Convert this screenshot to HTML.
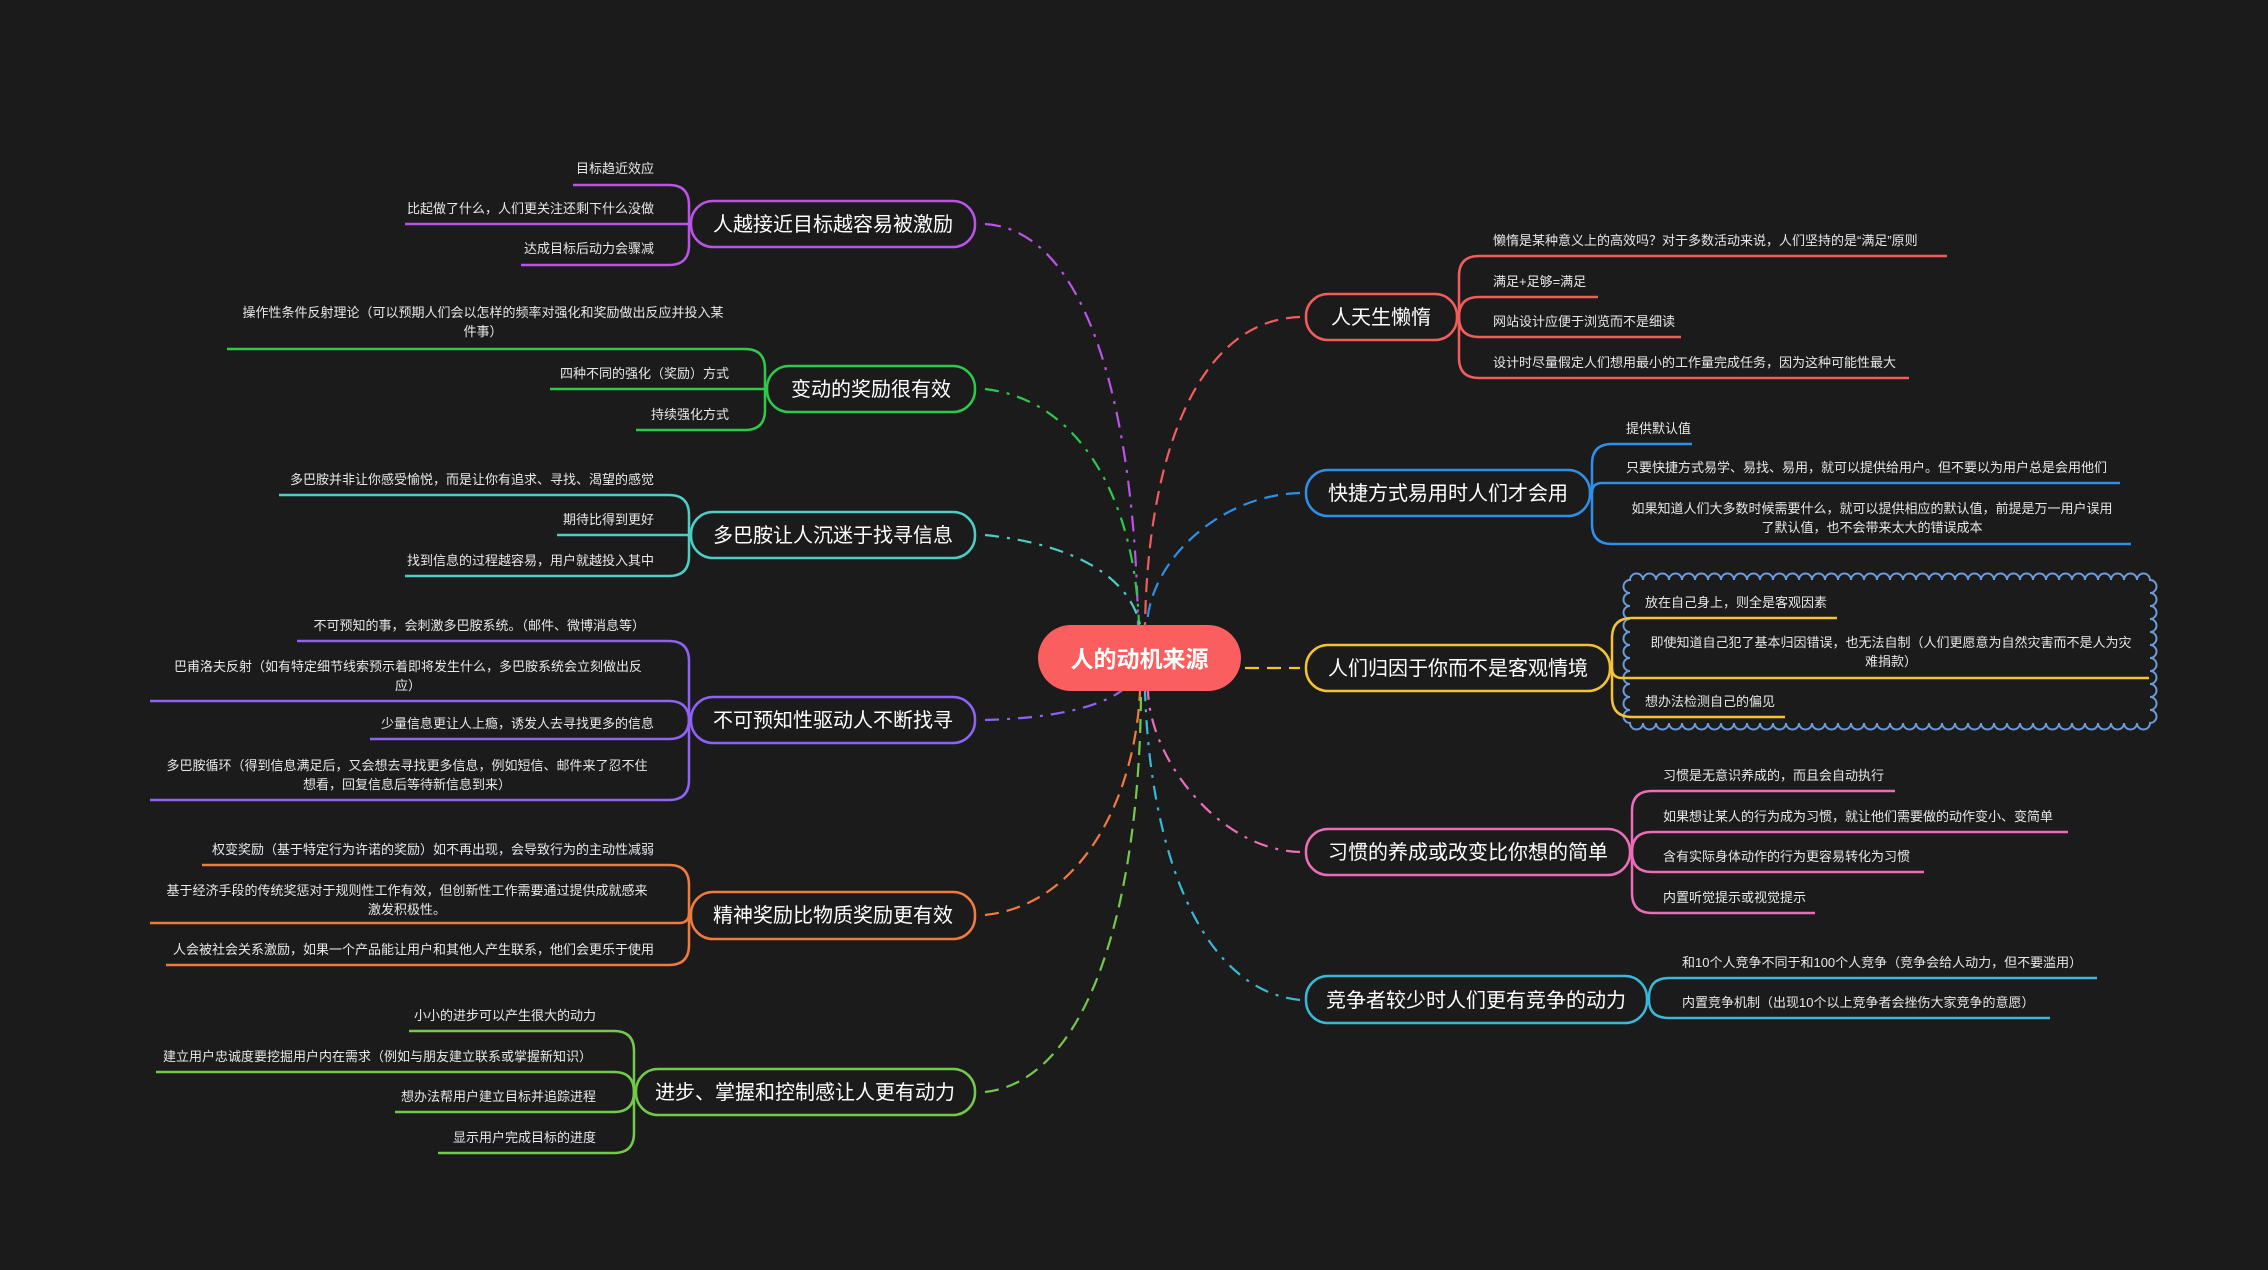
<!DOCTYPE html>
<html><head><meta charset="utf-8"><style>
html,body{margin:0;padding:0;background:#1b1b1b;}
svg{display:block;}
text{font-family:"Liberation Sans","Noto Sans CJK SC",sans-serif;fill:#e8e8e8;}
.c{font-size:13px;}
.b{font-size:20px;fill:#fff;}
.l{fill:none;stroke-width:2.5;}
.d{fill:none;stroke-width:2.2;}
</style></head><body>
<svg width="2268" height="1270" viewBox="0 0 2268 1270" xmlns="http://www.w3.org/2000/svg">
<rect width="2268" height="1270" fill="#1b1b1b"/>

<!-- main connectors -->
<path class="d" stroke="#b954e6" stroke-dasharray="16 8 3 8" d="M985,224 C1090,230 1135,420 1138,625"/>
<path class="d" stroke="#2ec84a" stroke-dasharray="14 8 3 8" d="M985,389 C1080,400 1135,500 1139,625"/>
<path class="d" stroke="#4ecdc4" stroke-dasharray="14 8 3 8" d="M985,535 C1080,545 1130,580 1140,625"/>
<path class="d" stroke="#8f62f5" stroke-dasharray="14 8 3 8" d="M985,720 C1060,718 1105,705 1125,688"/>
<path class="d" stroke="#f07b3f" stroke-dasharray="14 8" d="M985,915 C1080,905 1135,800 1140,691"/>
<path class="d" stroke="#74c94a" stroke-dasharray="14 8" d="M985,1092 C1090,1080 1140,900 1141,691"/>
<path class="d" stroke="#f25c5c" stroke-dasharray="14 8" d="M1300,317 C1200,320 1148,450 1145,625"/>
<path class="d" stroke="#2f8fe8" stroke-dasharray="14 8" d="M1300,493 C1220,495 1150,560 1147,625"/>
<path class="d" stroke="#f3c332" stroke-dasharray="14 8" d="M1245,668 L1300,668"/>
<path class="d" stroke="#ec6cb8" stroke-dasharray="14 8 3 8" d="M1300,852 C1220,850 1150,760 1148,691"/>
<path class="d" stroke="#3bb8d8" stroke-dasharray="14 8 3 8" d="M1300,1000 C1200,990 1150,850 1145,691"/>

<!-- center -->
<rect x="1038" y="625" width="203" height="66" rx="33" fill="#fb5e5e"/>
<text x="1139.5" y="667" text-anchor="middle" style="font-size:23px;font-weight:bold;fill:#fff">人的动机来源</text>

<!-- B1 -->
<g stroke="#b954e6" class="l">
<path d="M689,224 L689,205 Q689,185 669,185 L573,185"/>
<path d="M689,224 L405,224"/>
<path d="M689,224 L689,245 Q689,265 669,265 L521,265"/>
<rect x="691" y="201" width="284" height="46" rx="22" fill="#1b1b1b"/>
</g>
<text class="b" x="833" y="231" text-anchor="middle">人越接近目标越容易被激励</text>
<g class="c" text-anchor="end">
<text x="654" y="173">目标趋近效应</text>
<text x="654" y="213">比起做了什么，人们更关注还剩下什么没做</text>
<text x="654" y="253">达成目标后动力会骤减</text>
</g>

<!-- B2 -->
<g stroke="#2ec84a" class="l">
<path d="M765,389 L765,369 Q765,349 745,349 L227,349"/>
<path d="M765,389 L550,389"/>
<path d="M765,389 L765,410 Q765,430 745,430 L636,430"/>
<rect x="767" y="366" width="208" height="46" rx="22" fill="#1b1b1b"/>
</g>
<text class="b" x="871" y="396" text-anchor="middle">变动的奖励很有效</text>
<g class="c">
<text x="483" y="317" text-anchor="middle">操作性条件反射理论（可以预期人们会以怎样的频率对强化和奖励做出反应并投入某</text>
<text x="483" y="336" text-anchor="middle">件事）</text>
<text x="729" y="378" text-anchor="end">四种不同的强化（奖励）方式</text>
<text x="729" y="419" text-anchor="end">持续强化方式</text>
</g>

<!-- B3 -->
<g stroke="#4ecdc4" class="l">
<path d="M689,535 L689,515 Q689,495 669,495 L279,495"/>
<path d="M689,535 L557,535"/>
<path d="M689,535 L689,556 Q689,576 669,576 L405,576"/>
<rect x="691" y="512" width="284" height="46" rx="22" fill="#1b1b1b"/>
</g>
<text class="b" x="833" y="542" text-anchor="middle">多巴胺让人沉迷于找寻信息</text>
<g class="c" text-anchor="end">
<text x="654" y="484">多巴胺并非让你感受愉悦，而是让你有追求、寻找、渴望的感觉</text>
<text x="654" y="524">期待比得到更好</text>
<text x="654" y="565">找到信息的过程越容易，用户就越投入其中</text>
</g>

<!-- B4 -->
<g stroke="#8f62f5" class="l">
<path d="M689,720 L689,661 Q689,641 669,641 L297,641"/>
<path d="M689,720 L689,721 Q689,701 669,701 L150,701"/>
<path d="M689,720 L689,719 Q689,739 669,739 L370,739"/>
<path d="M689,720 L689,780 Q689,800 669,800 L150,800"/>
<rect x="691" y="697" width="284" height="46" rx="22" fill="#1b1b1b"/>
</g>
<text class="b" x="833" y="727" text-anchor="middle">不可预知性驱动人不断找寻</text>
<g class="c">
<text x="645" y="630" text-anchor="end">不可预知的事，会刺激多巴胺系统。（邮件、微博消息等）</text>
<text x="408" y="671" text-anchor="middle">巴甫洛夫反射（如有特定细节线索预示着即将发生什么，多巴胺系统会立刻做出反</text>
<text x="408" y="690" text-anchor="middle">应）</text>
<text x="654" y="728" text-anchor="end">少量信息更让人上瘾，诱发人去寻找更多的信息</text>
<text x="407" y="770" text-anchor="middle">多巴胺循环（得到信息满足后，又会想去寻找更多信息，例如短信、邮件来了忍不住</text>
<text x="407" y="789" text-anchor="middle">想看，回复信息后等待新信息到来）</text>
</g>

<!-- B5 -->
<g stroke="#f07b3f" class="l">
<path d="M689,915 L689,885 Q689,865 669,865 L202,865"/>
<path d="M689,915 L689,913 Q689,923 679,923 L150,923"/>
<path d="M689,915 L689,945 Q689,965 669,965 L166,965"/>
<rect x="691" y="892" width="284" height="47" rx="22" fill="#1b1b1b"/>
</g>
<text class="b" x="833" y="922" text-anchor="middle">精神奖励比物质奖励更有效</text>
<g class="c">
<text x="654" y="854" text-anchor="end">权变奖励（基于特定行为许诺的奖励）如不再出现，会导致行为的主动性减弱</text>
<text x="407" y="895" text-anchor="middle">基于经济手段的传统奖惩对于规则性工作有效，但创新性工作需要通过提供成就感来</text>
<text x="407" y="914" text-anchor="middle">激发积极性。</text>
<text x="654" y="954" text-anchor="end">人会被社会关系激励，如果一个产品能让用户和其他人产生联系，他们会更乐于使用</text>
</g>

<!-- B6 -->
<g stroke="#74c94a" class="l">
<path d="M634,1092 L634,1051 Q634,1031 614,1031 L409,1031"/>
<path d="M634,1092 L634,1092 Q634,1072 614,1072 L156,1072"/>
<path d="M634,1092 L634,1092 Q634,1112 614,1112 L395,1112"/>
<path d="M634,1092 L634,1133 Q634,1153 614,1153 L438,1153"/>
<rect x="636" y="1069" width="339" height="46" rx="22" fill="#1b1b1b"/>
</g>
<text class="b" x="805" y="1099" text-anchor="middle">进步、掌握和控制感让人更有动力</text>
<g class="c" text-anchor="end">
<text x="596" y="1020">小小的进步可以产生很大的动力</text>
<text x="592" y="1061">建立用户忠诚度要挖掘用户内在需求（例如与朋友建立联系或掌握新知识）</text>
<text x="596" y="1101">想办法帮用户建立目标并追踪进程</text>
<text x="596" y="1142">显示用户完成目标的进度</text>
</g>

<!-- R7 -->
<g stroke="#f25c5c" class="l">
<path d="M1459,317 L1459,276 Q1459,256 1479,256 L1947,256"/>
<path d="M1459,317 L1459,317 Q1459,297 1479,297 L1598,297"/>
<path d="M1459,317 L1459,317 Q1459,337 1479,337 L1681,337"/>
<path d="M1459,317 L1459,358 Q1459,378 1479,378 L1909,378"/>
<rect x="1306" y="294" width="151" height="46" rx="22" fill="#1b1b1b"/>
</g>
<text class="b" x="1381" y="324" text-anchor="middle">人天生懒惰</text>
<g class="c">
<text x="1493" y="245">懒惰是某种意义上的高效吗？对于多数活动来说，人们坚持的是“满足”原则</text>
<text x="1493" y="286">满足+足够=满足</text>
<text x="1493" y="326">网站设计应便于浏览而不是细读</text>
<text x="1493" y="367">设计时尽量假定人们想用最小的工作量完成任务，因为这种可能性最大</text>
</g>

<!-- R8 -->
<g stroke="#2f8fe8" class="l">
<path d="M1592,493 L1592,464 Q1592,444 1612,444 L1692,444"/>
<path d="M1592,493 L1592,493 Q1592,483 1602,483 L2120,483"/>
<path d="M1592,493 L1592,524 Q1592,544 1612,544 L2131,544"/>
<rect x="1306" y="470" width="284" height="46" rx="22" fill="#1b1b1b"/>
</g>
<text class="b" x="1448" y="500" text-anchor="middle">快捷方式易用时人们才会用</text>
<g class="c">
<text x="1626" y="433">提供默认值</text>
<text x="1626" y="472">只要快捷方式易学、易找、易用，就可以提供给用户。但不要以为用户总是会用他们</text>
<text x="1872" y="513" text-anchor="middle">如果知道人们大多数时候需要什么，就可以提供相应的默认值，前提是万一用户误用</text>
<text x="1872" y="532" text-anchor="middle">了默认值，也不会带来太大的错误成本</text>
</g>

<!-- R9 cloud -->
<path fill="none" stroke="#6b9bd8" stroke-width="2" d="M1630,580
a6.5,6.5 0 0 1 13,0 a6.5,6.5 0 0 1 13,0 a6.5,6.5 0 0 1 13,0 a6.5,6.5 0 0 1 13,0 a6.5,6.5 0 0 1 13,0 a6.5,6.5 0 0 1 13,0 a6.5,6.5 0 0 1 13,0 a6.5,6.5 0 0 1 13,0 a6.5,6.5 0 0 1 13,0 a6.5,6.5 0 0 1 13,0
a6.5,6.5 0 0 1 13,0 a6.5,6.5 0 0 1 13,0 a6.5,6.5 0 0 1 13,0 a6.5,6.5 0 0 1 13,0 a6.5,6.5 0 0 1 13,0 a6.5,6.5 0 0 1 13,0 a6.5,6.5 0 0 1 13,0 a6.5,6.5 0 0 1 13,0 a6.5,6.5 0 0 1 13,0 a6.5,6.5 0 0 1 13,0
a6.5,6.5 0 0 1 13,0 a6.5,6.5 0 0 1 13,0 a6.5,6.5 0 0 1 13,0 a6.5,6.5 0 0 1 13,0 a6.5,6.5 0 0 1 13,0 a6.5,6.5 0 0 1 13,0 a6.5,6.5 0 0 1 13,0 a6.5,6.5 0 0 1 13,0 a6.5,6.5 0 0 1 13,0 a6.5,6.5 0 0 1 13,0
a6.5,6.5 0 0 1 13,0 a6.5,6.5 0 0 1 13,0 a6.5,6.5 0 0 1 13,0 a6.5,6.5 0 0 1 13,0 a6.5,6.5 0 0 1 13,0 a6.5,6.5 0 0 1 13,0 a6.5,6.5 0 0 1 13,0 a6.5,6.5 0 0 1 13,0 a6.5,6.5 0 0 1 13,0 a6.5,6.5 0 0 1 13,0
a6.5,6.5 0 0 1 0,13 a6.5,6.5 0 0 1 0,13 a6.5,6.5 0 0 1 0,13 a6.5,6.5 0 0 1 0,13 a6.5,6.5 0 0 1 0,13 a6.5,6.5 0 0 1 0,13 a6.5,6.5 0 0 1 0,13 a6.5,6.5 0 0 1 0,13 a6.5,6.5 0 0 1 0,13 a6.5,6.5 0 0 1 0,13 a6.5,6.5 0 0 1 0,13
a6.5,6.5 0 0 1 -13,0 a6.5,6.5 0 0 1 -13,0 a6.5,6.5 0 0 1 -13,0 a6.5,6.5 0 0 1 -13,0 a6.5,6.5 0 0 1 -13,0 a6.5,6.5 0 0 1 -13,0 a6.5,6.5 0 0 1 -13,0 a6.5,6.5 0 0 1 -13,0 a6.5,6.5 0 0 1 -13,0 a6.5,6.5 0 0 1 -13,0
a6.5,6.5 0 0 1 -13,0 a6.5,6.5 0 0 1 -13,0 a6.5,6.5 0 0 1 -13,0 a6.5,6.5 0 0 1 -13,0 a6.5,6.5 0 0 1 -13,0 a6.5,6.5 0 0 1 -13,0 a6.5,6.5 0 0 1 -13,0 a6.5,6.5 0 0 1 -13,0 a6.5,6.5 0 0 1 -13,0 a6.5,6.5 0 0 1 -13,0
a6.5,6.5 0 0 1 -13,0 a6.5,6.5 0 0 1 -13,0 a6.5,6.5 0 0 1 -13,0 a6.5,6.5 0 0 1 -13,0 a6.5,6.5 0 0 1 -13,0 a6.5,6.5 0 0 1 -13,0 a6.5,6.5 0 0 1 -13,0 a6.5,6.5 0 0 1 -13,0 a6.5,6.5 0 0 1 -13,0 a6.5,6.5 0 0 1 -13,0
a6.5,6.5 0 0 1 -13,0 a6.5,6.5 0 0 1 -13,0 a6.5,6.5 0 0 1 -13,0 a6.5,6.5 0 0 1 -13,0 a6.5,6.5 0 0 1 -13,0 a6.5,6.5 0 0 1 -13,0 a6.5,6.5 0 0 1 -13,0 a6.5,6.5 0 0 1 -13,0 a6.5,6.5 0 0 1 -13,0 a6.5,6.5 0 0 1 -13,0
a6.5,6.5 0 0 1 0,-13 a6.5,6.5 0 0 1 0,-13 a6.5,6.5 0 0 1 0,-13 a6.5,6.5 0 0 1 0,-13 a6.5,6.5 0 0 1 0,-13 a6.5,6.5 0 0 1 0,-13 a6.5,6.5 0 0 1 0,-13 a6.5,6.5 0 0 1 0,-13 a6.5,6.5 0 0 1 0,-13 a6.5,6.5 0 0 1 0,-13 a6.5,6.5 0 0 1 0,-13 Z"/>

<!-- R9 -->
<g stroke="#f3c332" class="l">
<path d="M1612,668 L1612,638 Q1612,618 1632,618 L1837,618"/>
<path d="M1612,668 L1612,668 Q1612,678 1622,678 L2149,678"/>
<path d="M1612,668 L1612,697 Q1612,717 1632,717 L1785,717"/>
<rect x="1306" y="645" width="304" height="46" rx="22" fill="#1b1b1b"/>
</g>
<text class="b" x="1458" y="675" text-anchor="middle">人们归因于你而不是客观情境</text>
<g class="c">
<text x="1645" y="607">放在自己身上，则全是客观因素</text>
<text x="1891" y="647" text-anchor="middle">即使知道自己犯了基本归因错误，也无法自制（人们更愿意为自然灾害而不是人为灾</text>
<text x="1891" y="666" text-anchor="middle">难捐款）</text>
<text x="1645" y="706">想办法检测自己的偏见</text>
</g>

<!-- R10 -->
<g stroke="#ec6cb8" class="l">
<path d="M1632,852 L1632,811 Q1632,791 1652,791 L1895,791"/>
<path d="M1632,852 L1632,852 Q1632,832 1652,832 L2068,832"/>
<path d="M1632,852 L1632,852 Q1632,872 1652,872 L1924,872"/>
<path d="M1632,852 L1632,893 Q1632,913 1652,913 L1815,913"/>
<rect x="1306" y="829" width="324" height="46" rx="22" fill="#1b1b1b"/>
</g>
<text class="b" x="1468" y="859" text-anchor="middle">习惯的养成或改变比你想的简单</text>
<g class="c">
<text x="1663" y="780">习惯是无意识养成的，而且会自动执行</text>
<text x="1663" y="821">如果想让某人的行为成为习惯，就让他们需要做的动作变小、变简单</text>
<text x="1663" y="861">含有实际身体动作的行为更容易转化为习惯</text>
<text x="1663" y="902">内置听觉提示或视觉提示</text>
</g>

<!-- R11 -->
<g stroke="#3bb8d8" class="l">
<path d="M1649,1000 L1649,998 Q1649,978 1669,978 L2097,978"/>
<path d="M1649,1000 L1649,1000 Q1649,1018 1669,1018 L2050,1018"/>
<rect x="1306" y="976" width="341" height="47" rx="22" fill="#1b1b1b"/>
</g>
<text class="b" x="1476" y="1007" text-anchor="middle">竞争者较少时人们更有竞争的动力</text>
<g class="c">
<text x="1682" y="967">和10个人竞争不同于和100个人竞争（竞争会给人动力，但不要滥用）</text>
<text x="1682" y="1007">内置竞争机制（出现10个以上竞争者会挫伤大家竞争的意愿）</text>
</g>
</svg>
</body></html>
